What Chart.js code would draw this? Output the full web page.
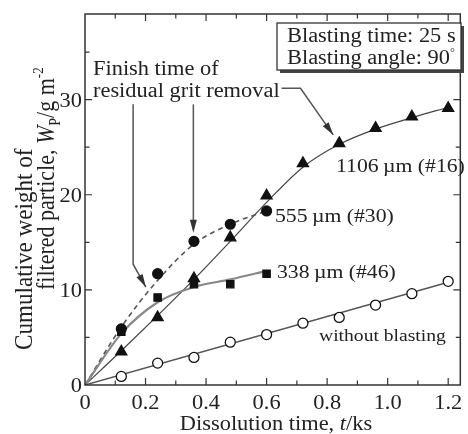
<!DOCTYPE html>
<html>
<head>
<meta charset="utf-8">
<script src="https://cdn.jsdelivr.net/npm/chart.js@4.4.1/dist/chart.umd.min.js"></script>
<style>
  html, body { margin: 0; padding: 0; background: #fff; }
  #wrap { width: 468px; height: 434px; }
</style>
</head>
<body>
<div id="wrap"><canvas id="c" width="468" height="434"></canvas></div>
<script>
// Dissolution time (ks) at each sampling
const timeAll = [0.12, 0.24, 0.36, 0.48, 0.60, 0.72, 0.84, 0.96, 1.08, 1.20];
const timeShort = [0.12, 0.24, 0.36, 0.48, 0.60];

// Cumulative weight of filtered particle, W_P (g m^-2)
const wNoBlast = [0.9, 2.3, 2.9, 4.5, 5.3, 6.5, 7.1, 8.4, 9.6, 10.9];
const w338 = [5.6, 9.2, 10.6, 10.6, 11.7];
const w555 = [5.9, 11.7, 15.1, 16.9, 18.3];
const w1106 = [3.5, 7.1, 11.2, 15.5, 19.9, 23.3, 25.4, 27.0, 28.2, 29.1];

// Fitted trend curves (through the origin)
const fitNoBlastT = [0, 1.2];
const fitNoBlastW = [0, 10.8];
const fit338T = [0, 0.12, 0.24, 0.36, 0.48, 0.60];
const fit338W = [0, 5.4, 8.7, 10.3, 11.1, 12.0];
const fit555T = [0, 0.12, 0.24, 0.36, 0.48, 0.60];
const fit555W = [0, 6.1, 11.0, 14.8, 16.9, 18.3];
const fit1106T = [0, 0.12, 0.24, 0.36, 0.48, 0.60, 0.72, 0.84, 0.96, 1.08, 1.20];
const fit1106W = [0, 3.6, 7.3, 11.1, 15.1, 19.2, 22.9, 25.3, 26.9, 28.1, 29.2];

// Axis ticks
const xTickVals = [0, 0.2, 0.4, 0.6, 0.8, 1.0, 1.2];
const xTickLabels = ['0', '0.2', '0.4', '0.6', '0.8', '1.0', '1.2'];
const yTickVals = [0, 10, 20, 30];
const yTickLabels = ['0', '10', '20', '30'];
const xMinorStep = 0.1;
const yMinorStep = 5;

const pts = (xs, ys) => xs.map((x, i) => ({ x: x, y: ys[i] }));

const SERIF = '"Liberation Serif", "Times New Roman", serif';
const SX = 1.12;       // horizontal widening of the serif lettering
const INK = '#222';
const LINE = '#555';

function drawText(ctx, str, x, y, opts) {
  opts = opts || {};
  const size = opts.size || 20;
  ctx.save();
  ctx.font = (opts.italic ? 'italic ' : '') + size + 'px ' + SERIF;
  ctx.fillStyle = opts.color || INK;
  ctx.textBaseline = opts.baseline || 'alphabetic';
  ctx.textAlign = 'left';
  const w = ctx.measureText(str).width * SX;
  let x0 = x;
  if (opts.align === 'center') x0 = x - w / 2;
  else if (opts.align === 'right') x0 = x - w;
  ctx.translate(x0, y);
  ctx.scale(SX, 1);
  ctx.fillText(str, 0, 0);
  ctx.restore();
  return w;
}

// Draw a run of styled pieces horizontally, starting at x
function drawRun(ctx, pieces, x, y, align) {
  let total = 0;
  ctx.save();
  pieces.forEach(p => {
    ctx.font = (p.italic ? 'italic ' : '') + (p.size || 20) + 'px ' + SERIF;
    total += ctx.measureText(p.t).width * SX;
  });
  ctx.restore();
  let cx = align === 'center' ? x - total / 2 : x;
  pieces.forEach(p => {
    cx += drawText(ctx, p.t, cx, y + (p.dy || 0), { size: p.size, italic: p.italic });
  });
}

// Rotated (bottom-to-top) run of pieces starting at screen (x, y)
function drawRunVertical(ctx, pieces, x, y, lenScale, hScale) {
  ctx.save();
  ctx.translate(x, y);
  ctx.rotate(-Math.PI / 2);
  ctx.scale(lenScale, hScale);
  ctx.fillStyle = INK;
  ctx.textBaseline = 'alphabetic';
  let cx = 0;
  pieces.forEach(p => {
    ctx.font = (p.italic ? 'italic ' : '') + (p.size || 22) + 'px ' + SERIF;
    ctx.fillText(p.t, cx, p.dy || 0);
    cx += ctx.measureText(p.t).width;
  });
  ctx.restore();
}

function arrowHead(ctx, x1, y1, x2, y2, len, half) {
  const a = Math.atan2(y2 - y1, x2 - x1);
  ctx.beginPath();
  ctx.moveTo(x2, y2);
  ctx.lineTo(x2 - len * Math.cos(a) + half * Math.sin(a), y2 - len * Math.sin(a) - half * Math.cos(a));
  ctx.lineTo(x2 - len * Math.cos(a) - half * Math.sin(a), y2 - len * Math.sin(a) + half * Math.cos(a));
  ctx.closePath();
  ctx.fill();
}

const decorPlugin = {
  id: 'decor',
  afterDraw(chart) {
    const ctx = chart.ctx;
    const xs = chart.scales.x, ys = chart.scales.y;
    const a = chart.chartArea;
    const X = v => xs.getPixelForValue(v);
    const Y = v => ys.getPixelForValue(v);

    // frame
    ctx.save();
    ctx.strokeStyle = '#333';
    ctx.lineWidth = 1.5;
    ctx.strokeRect(a.left, a.top, a.right - a.left, a.bottom - a.top);

    // inward ticks on all four sides
    ctx.lineWidth = 1.2;
    ctx.beginPath();
    for (let i = 1; i * xMinorStep <= xs.max + 1e-9; i++) {
      const v = i * xMinorStep;
      const major = i % 2 === 0;
      const L = major ? 7 : 4.5;
      const px = X(v);
      ctx.moveTo(px, a.bottom); ctx.lineTo(px, a.bottom - L);
      ctx.moveTo(px, a.top); ctx.lineTo(px, a.top + L);
    }
    for (let i = 1; i * yMinorStep <= ys.max + 1e-9; i++) {
      const v = i * yMinorStep;
      const major = i % 2 === 0;
      const L = major ? 7 : 4.5;
      const py = Y(v);
      ctx.moveTo(a.left, py); ctx.lineTo(a.left + L, py);
      ctx.moveTo(a.right, py); ctx.lineTo(a.right - L, py);
    }
    ctx.stroke();
    ctx.restore();

    // tick labels
    xTickVals.forEach((v, i) => drawText(ctx, xTickLabels[i], X(v), a.bottom + 24, { align: 'center' }));
    yTickVals.forEach((v, i) => drawText(ctx, yTickLabels[i], a.left - 3, Y(v) + 7, { align: 'right' }));

    // axis titles
    drawRun(ctx, [
      { t: 'Dissolution time, ' }, { t: 't', italic: true }, { t: '/ks' }
    ], 276, 430, 'center');
    drawRunVertical(ctx, [{ t: 'Cumulative weight of' }], 32, 350, 1.05, 1.12);
    drawRunVertical(ctx, [
      { t: 'filtered particle, ' }, { t: 'W', italic: true },
      { t: 'P', size: 14, dy: 5 }, { t: '/g m' }, { t: '-2', size: 13, dy: -10 }
    ], 54, 290, 1.0, 1.12);

    // series labels
    drawText(ctx, '1106\u2009\u00b5m (#16)', 336, 172, { size: 19.4 });
    drawText(ctx, '555\u2009\u00b5m (#30)', 275, 222, { size: 19.4 });
    drawText(ctx, '338\u2009\u00b5m (#46)', 277, 278, { size: 19.4 });
    drawText(ctx, 'without blasting', 319, 341, { size: 17.5 });

    // condition box
    ctx.save();
    ctx.fillStyle = '#444';
    ctx.fillRect(280, 26, 184, 47);
    ctx.fillStyle = '#fff';
    ctx.fillRect(277, 23, 184, 47);
    ctx.strokeStyle = '#333';
    ctx.lineWidth = 1.3;
    ctx.strokeRect(277, 23, 184, 47);
    ctx.restore();
    drawText(ctx, 'Blasting time: 25 s', 287, 42);
    const wAng = drawText(ctx, 'Blasting angle: 90', 287, 64);
    drawText(ctx, '\u00b0', 287 + wAng, 56, { size: 11 });

    // "finish time" annotation
    drawText(ctx, 'Finish time of', 93, 75);
    const wRes = drawText(ctx, 'residual grit removal', 93, 97);

    ctx.save();
    ctx.strokeStyle = LINE;
    ctx.fillStyle = '#333';
    ctx.lineWidth = 1.5;
    // leader to the 1106 curve
    const hx0 = 93 + wRes + 2, hy = Y(31.2);
    const hx1 = X(0.712), tipA = [X(0.82), Y(26.3)];
    ctx.beginPath();
    ctx.moveTo(hx0, hy); ctx.lineTo(hx1, hy); ctx.lineTo(tipA[0], tipA[1]);
    ctx.stroke();
    arrowHead(ctx, hx1, hy, tipA[0], tipA[1], 13, 3.5);
    // leader to the 338 curve
    const vx1 = X(0.159), tipB = [X(0.201), Y(10.3)];
    ctx.beginPath();
    ctx.moveTo(vx1, Y(29.5)); ctx.lineTo(vx1, Y(12.7)); ctx.lineTo(tipB[0], tipB[1]);
    ctx.stroke();
    arrowHead(ctx, vx1, Y(12.7), tipB[0], tipB[1], 13, 3.5);
    // leader to the 555 curve
    const vx2 = X(0.358), tipC = [X(0.358), Y(16.0)];
    ctx.beginPath();
    ctx.moveTo(vx2, Y(29.5)); ctx.lineTo(tipC[0], tipC[1] - 6);
    ctx.stroke();
    arrowHead(ctx, vx2, Y(29.5), tipC[0], tipC[1], 13, 3.5);
    ctx.restore();
  }
};

const markerBase = { showLine: false, borderColor: '#111', borderWidth: 1.2, order: 0 };
const curveBase = { showLine: true, pointRadius: 0, fill: false, cubicInterpolationMode: 'monotone', order: 1 };

new Chart(document.getElementById('c'), {
  type: 'scatter',
  data: {
    datasets: [
      Object.assign({}, markerBase, { label: 'without blasting', data: pts(timeAll, wNoBlast),
        pointStyle: 'circle', pointRadius: 5, backgroundColor: '#fff', borderWidth: 1.3 }),
      Object.assign({}, markerBase, { label: '338 um', data: pts(timeShort, w338),
        pointStyle: 'rect', pointRadius: 5.2, backgroundColor: '#111' }),
      Object.assign({}, markerBase, { label: '555 um', data: pts(timeShort, w555),
        pointStyle: 'circle', pointRadius: 5, backgroundColor: '#111' }),
      Object.assign({}, markerBase, { label: '1106 um', data: pts(timeAll, w1106),
        pointStyle: 'triangle', pointRadius: 6.5, backgroundColor: '#111' }),
      Object.assign({}, curveBase, { label: 'fit without blasting', data: pts(fitNoBlastT, fitNoBlastW),
        borderColor: '#555', borderWidth: 1.5 }),
      Object.assign({}, curveBase, { label: 'fit 338', data: pts(fit338T, fit338W),
        borderColor: '#888', borderWidth: 2.2 }),
      Object.assign({}, curveBase, { label: 'fit 555', data: pts(fit555T, fit555W),
        borderColor: '#555', borderWidth: 1.6, borderDash: [5, 4] }),
      Object.assign({}, curveBase, { label: 'fit 1106', data: pts(fit1106T, fit1106W),
        borderColor: '#444', borderWidth: 1.2 })
    ]
  },
  options: {
    responsive: false,
    animation: false,
    events: [],
    layout: { padding: { left: 85, right: 2, top: 14, bottom: 49 } },
    plugins: { legend: { display: false }, tooltip: { enabled: false } },
    scales: {
      x: { type: 'linear', min: 0, max: 1.24, display: false },
      y: { type: 'linear', min: 0, max: 39, display: false }
    }
  },
  plugins: [decorPlugin]
});
</script>
</body>
</html>
